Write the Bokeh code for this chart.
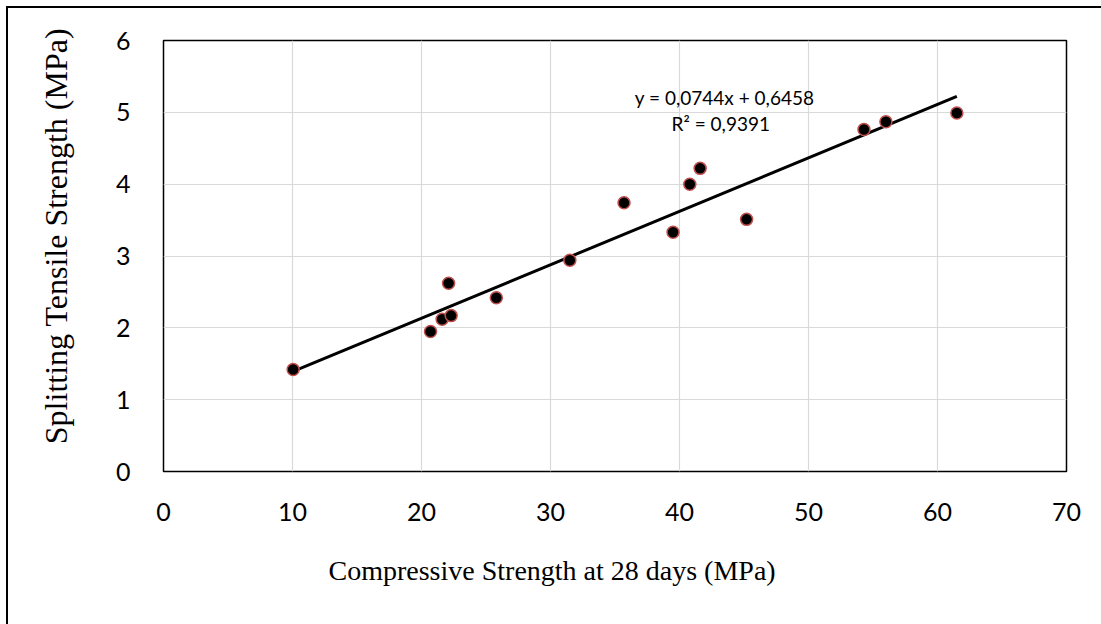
from bokeh.plotting import figure
from bokeh.models import Label, Title, FixedTicker, InlineStyleSheet, ColumnDataSource
from bokeh.embed import file_html
from bokeh.resources import INLINE

# Data
compressive = [10.05, 20.7, 21.6, 22.1, 22.3, 25.8, 31.5, 35.7, 39.5, 40.8, 41.6, 45.2, 54.3, 56.0, 61.5]
tensile     = [1.42, 1.95, 2.12, 2.62, 2.17, 2.42, 2.94, 3.74, 3.33, 4.00, 4.22, 3.51, 4.76, 4.87, 4.99]
slope = 0.0744
intercept = 0.6458
r2_text = "R² = 0,9391"
eq_text = "y = 0,0744x + 0,6458"
x_title = "Compressive Strength at 28 days (MPa)"
y_title = "Splitting Tensile Strength (MPa)"
x_ticks = [0, 10, 20, 30, 40, 50, 60, 70]
y_ticks = [0, 1, 2, 3, 4, 5, 6]

p = figure(width=1101, height=624, output_backend="svg", toolbar_location=None,
           x_range=(0, 70), y_range=(0, 6))
p.min_border_left = 163
p.min_border_right = 35
p.min_border_top = 40
p.min_border_bottom = 153
p.background_fill_color = "white"
p.border_fill_color = "white"
p.outline_line_color = "black"
p.outline_line_width = 1.5

p.xgrid.grid_line_color = "#D9D9D9"
p.ygrid.grid_line_color = "#D9D9D9"
p.xgrid.grid_line_width = 1.2
p.ygrid.grid_line_width = 1.2

p.xaxis.ticker = FixedTicker(ticks=x_ticks)
p.yaxis.ticker = FixedTicker(ticks=y_ticks)
for ax in (p.xaxis[0], p.yaxis[0]):
    ax.axis_line_color = None
    ax.major_tick_line_color = None
    ax.minor_tick_line_color = None
    ax.major_label_text_font = "Lato"
    ax.major_label_text_font_size = "25px"
    ax.major_label_text_color = "black"
p.xaxis.major_label_standoff = 25
p.yaxis.major_label_standoff = 27

# y-axis title: leading non-breaking spaces shift it slightly upward, as in the original
p.yaxis.axis_label = "\u00a0" * 5 + y_title
p.yaxis.axis_label_text_font = "Liberation Serif"
p.yaxis.axis_label_text_font_size = "32px"
p.yaxis.axis_label_text_font_style = "normal"
p.yaxis.axis_label_text_color = "black"
p.yaxis.axis_label_standoff = 39

# Trend line
xmin, xmax = min(compressive), max(compressive)
p.line([xmin, xmax], [slope * xmin + intercept, slope * xmax + intercept],
       line_color="black", line_width=3)

src = ColumnDataSource(dict(x=compressive, y=tensile))
p.scatter("x", "y", source=src, size=12, fill_color="black",
          line_color="#C0504D", line_width=1.5)

p.add_layout(Label(x=43.5, y=5.21, text=eq_text, text_align="center", text_baseline="middle",
                   text_font="Lato", text_font_size="19px", text_color="black"))
p.add_layout(Label(x=43.2, y=4.85, text=r2_text, text_align="center", text_baseline="middle",
                   text_font="Lato", text_font_size="19px", text_color="black"))

# x-axis title (slightly off-centre, as in the original)
p.add_layout(Title(text=x_title, align="left", offset=165, standoff=59,
                   text_font="Liberation Serif", text_font_size="28px",
                   text_font_style="normal", text_color="black"), "below")

p.stylesheets = [InlineStyleSheet(css="""
:host { position: relative; }
:host::after { content: ""; position: absolute; left: 6px; top: 6px; right: 0; bottom: 0;
  border-left: 2px solid black; border-top: 2px solid black; pointer-events: none; }
""")]

open("out.html", "w").write(file_html(p, INLINE))
